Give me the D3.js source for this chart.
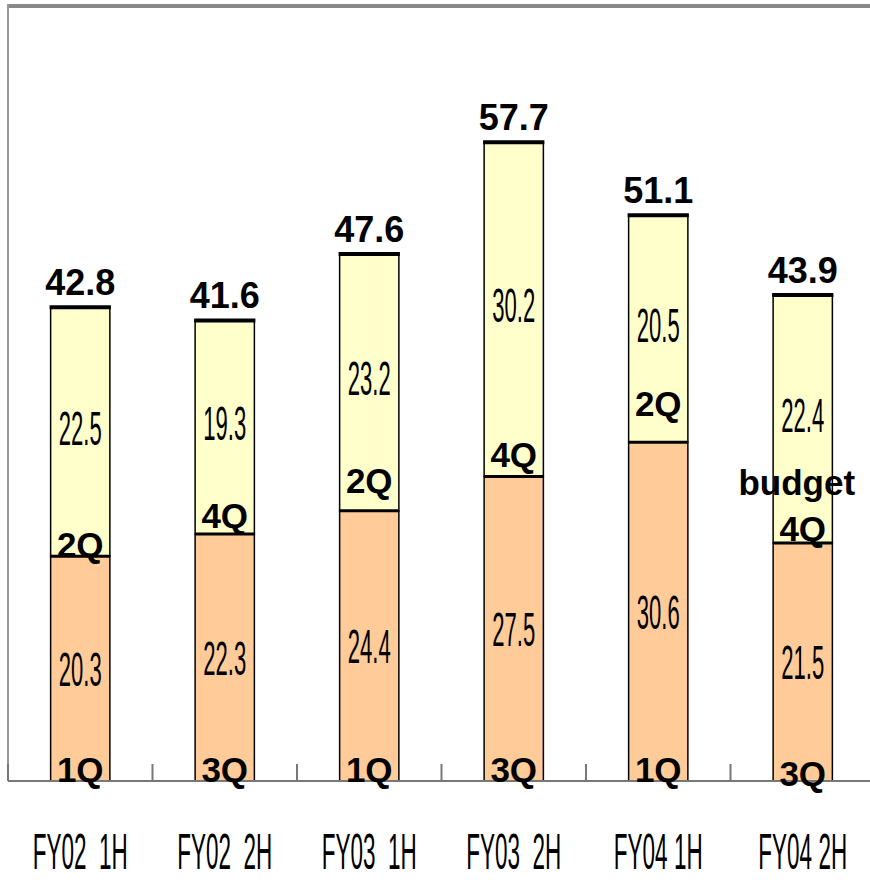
<!DOCTYPE html>
<html>
<head>
<meta charset="utf-8">
<script src="https://cdn.jsdelivr.net/npm/d3@7"></script>
<style>
  html, body { margin: 0; padding: 0; background: #fff; }
  svg { display: block; }
  text { white-space: pre; }
</style>
</head>
<body>
<div id="chart"></div>
<script>
// halves shown on the x axis
const categories = ['FY02  1H', 'FY02  2H', 'FY03  1H', 'FY03  2H', 'FY04 1H', 'FY04 2H'];
// first quarter of each half (lower, orange)
const firstQ = [20.3, 22.3, 24.4, 27.5, 30.6, 21.5];
// second quarter of each half (upper, yellow)
const secondQ = [22.5, 19.3, 23.2, 30.2, 20.5, 22.4];
const totals = [42.8, 41.6, 47.6, 57.7, 51.1, 43.9];
const lowerNames = ['1Q', '3Q', '1Q', '3Q', '1Q', '3Q'];
const upperNames = ['2Q', '4Q', '2Q', '4Q', '2Q', '4Q'];

const width = 870;
const height = 880;
const plot = { left: 8, right: 875, top: 6, bottom: 781 };

const svg = d3.select('#chart').append('svg')
  .attr('width', width)
  .attr('height', height);

const x = d3.scaleBand()
  .domain(categories)
  .range([plot.left, plot.right])
  .paddingInner(0.59)
  .paddingOuter(0.295);

const y = d3.scaleLinear()
  .domain([0, 70])
  .range([plot.bottom, plot.top]);

const data = categories.map((c, i) => ({
  cat: c,
  a: firstQ[i],
  b: secondQ[i],
  total: totals[i],
  lo: lowerNames[i],
  up: upperNames[i],
}));

// plot frame (top + left)
svg.append('line')
  .attr('x1', plot.left).attr('x2', width)
  .attr('y1', 6).attr('y2', 6)
  .attr('stroke', '#888').attr('stroke-width', 4);
svg.append('line')
  .attr('x1', plot.left).attr('x2', plot.left)
  .attr('y1', 4).attr('y2', plot.bottom)
  .attr('stroke', '#999').attr('stroke-width', 2);

const bw = x.bandwidth();
const cx = d => x(d.cat) + bw / 2;

// bars
const bars = svg.append('g');
bars.selectAll('.low').data(data).join('rect')
  .attr('x', d => x(d.cat))
  .attr('y', d => y(d.a))
  .attr('width', bw)
  .attr('height', d => y(0) - y(d.a))
  .attr('fill', '#FFCC99')
  .attr('stroke', '#000')
  .attr('stroke-width', 1.5);
bars.selectAll('.up').data(data).join('rect')
  .attr('x', d => x(d.cat))
  .attr('y', d => y(d.a + d.b))
  .attr('width', bw)
  .attr('height', d => y(d.a) - y(d.a + d.b))
  .attr('fill', '#FFFFCC')
  .attr('stroke', '#000')
  .attr('stroke-width', 1.5);
// split lines and bar tops
bars.selectAll('.split').data(data).join('line')
  .attr('x1', d => x(d.cat)).attr('x2', d => x(d.cat) + bw)
  .attr('y1', d => y(d.a)).attr('y2', d => y(d.a))
  .attr('stroke', '#000').attr('stroke-width', 3);
bars.selectAll('.top').data(data).join('line')
  .attr('x1', d => x(d.cat) - 1).attr('x2', d => x(d.cat) + bw + 1)
  .attr('y1', d => y(d.a + d.b)).attr('y2', d => y(d.a + d.b))
  .attr('stroke', '#000').attr('stroke-width', 4);

// narrow value labels inside segments
const narrow = (sel, size) => sel
  .attr('font-family', 'Liberation Sans, Arial, sans-serif')
  .attr('font-size', size)
  .attr('text-anchor', 'middle')
  .attr('fill', '#000');

svg.append('g').selectAll('text').data(data).join('text')
  .call(narrow, 48)
  .attr('transform', d => `translate(${cx(d)},${(y(0) + y(d.a)) / 2 + 17}) scale(0.46,1)`)
  .text(d => d.a.toFixed(1));
svg.append('g').selectAll('text').data(data).join('text')
  .call(narrow, 48)
  .attr('transform', d => `translate(${cx(d)},${(y(d.a) + y(d.a + d.b)) / 2 + 13}) scale(0.46,1)`)
  .text(d => d.b.toFixed(1));

// totals above bars
svg.append('g').selectAll('text').data(data).join('text')
  .attr('x', cx)
  .attr('y', d => y(d.total) - 12)
  .attr('text-anchor', 'middle')
  .attr('font-family', 'Liberation Sans, Arial, sans-serif')
  .attr('font-weight', 'bold')
  .attr('font-size', 36)
  .text(d => d.total.toFixed(1));

// quarter names
const upLift = [0, 7, 19, 11, 27, 3];
const loDrop = [0, 0, 0, 0, 0, 4];
const bold = sel => sel
  .attr('text-anchor', 'middle')
  .attr('font-family', 'Liberation Sans, Arial, sans-serif')
  .attr('font-weight', 'bold')
  .attr('font-size', 35)
  .attr('fill', '#000');

svg.append('g').selectAll('text').data(data).join('text')
  .call(bold)
  .attr('x', cx)
  .attr('y', (d, i) => y(d.a) + 1 - upLift[i])
  .text(d => d.up);

// axis baseline with inward ticks at category edges
const edges = categories.map(c => x(c) - (x.step() - bw) / 2).concat([plot.right]);
svg.append('g').selectAll('line').data(edges).join('line')
  .attr('x1', d => d).attr('x2', d => d)
  .attr('y1', plot.bottom - 17).attr('y2', plot.bottom)
  .attr('stroke', '#777').attr('stroke-width', 2);
svg.append('line')
  .attr('x1', plot.left).attr('x2', width)
  .attr('y1', plot.bottom).attr('y2', plot.bottom)
  .attr('stroke', '#777').attr('stroke-width', 2);

svg.append('g').selectAll('text').data(data).join('text')
  .call(bold)
  .attr('x', cx)
  .attr('y', (d, i) => y(0) + 1 + loDrop[i])
  .text(d => d.lo);

svg.append('text')
  .call(bold)
  .attr('x', cx(data[5]) - 6)
  .attr('y', y(data[5].a) - 48)
  .text('budget');

// category labels
svg.append('g').selectAll('text').data(data).join('text')
  .call(narrow, 50)
  .attr('transform', d => `translate(${cx(d)},${869}) scale(0.45,1)`)
  .text(d => d.cat);
</script>
</body>
</html>
